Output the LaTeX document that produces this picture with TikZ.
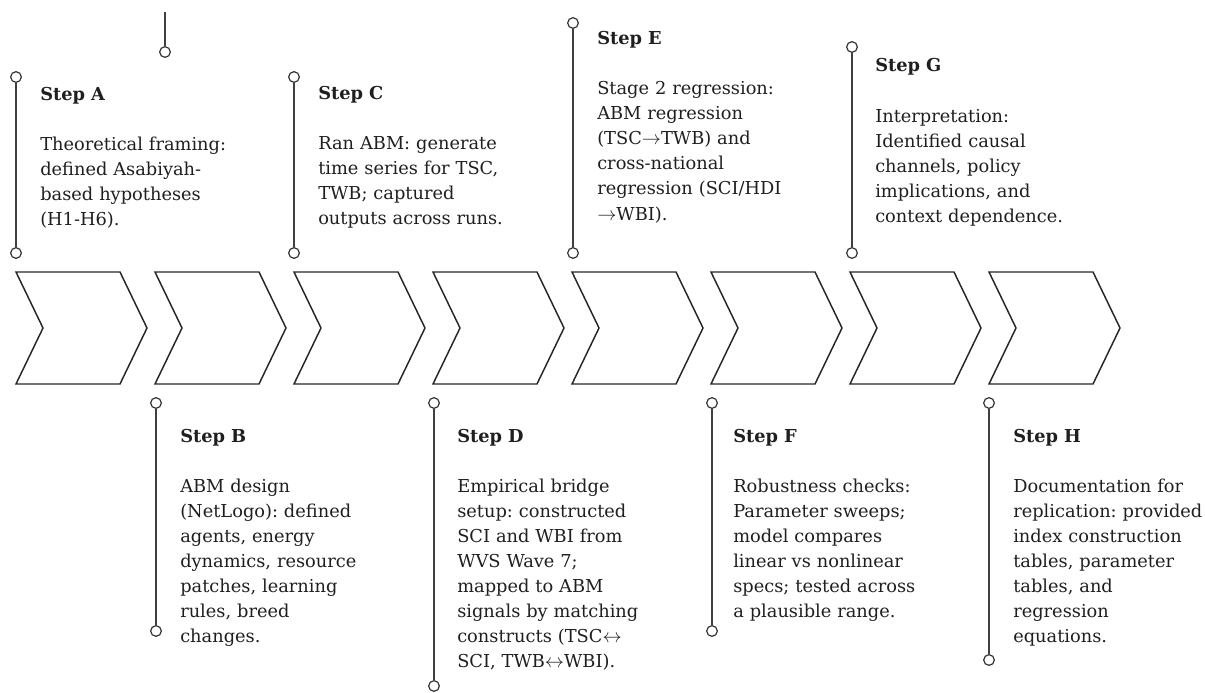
\documentclass[tikz,border=0pt]{standalone}
\usepackage{fontspec}
\setmainfont{DejaVu Serif}
\usetikzlibrary{positioning}
\frenchspacing

\begin{document}
\begin{tikzpicture}[
    x=0.75pt, y=-0.75pt,
    chev/.style={
        draw=black!85,
        line width=1.1pt,
        line join=miter
    },
    pin/.style={
        circle,
        draw=black!80,
        fill=white,
        line width=0.9pt,
        inner sep=0pt,
        minimum size=8pt
    },
    stem/.style={
        draw=black!75,
        line width=1.1pt
    },
    stepnote/.style={
        anchor=base west,
        align=left,
        inner sep=0pt,
        text=black!88,
        text width=#1,
        font=\fontsize{13.35pt}{18.75pt}\selectfont
    },
    stepnote/.default=180pt
]
\useasboundingbox (0,0) rectangle (1205,692);

% chevron band
\draw[chev] (16,272) -- ++(104,0) -- ++(27,56) -- ++(-27,56) -- ++(-104,0) -- ++(27,-56) -- cycle;
\draw[chev] (155,272) -- ++(104,0) -- ++(27,56) -- ++(-27,56) -- ++(-104,0) -- ++(27,-56) -- cycle;
\draw[chev] (294,272) -- ++(104,0) -- ++(27,56) -- ++(-27,56) -- ++(-104,0) -- ++(27,-56) -- cycle;
\draw[chev] (433,272) -- ++(104,0) -- ++(27,56) -- ++(-27,56) -- ++(-104,0) -- ++(27,-56) -- cycle;
\draw[chev] (572,272) -- ++(104,0) -- ++(27,56) -- ++(-27,56) -- ++(-104,0) -- ++(27,-56) -- cycle;
\draw[chev] (711,272) -- ++(104,0) -- ++(27,56) -- ++(-27,56) -- ++(-104,0) -- ++(27,-56) -- cycle;
\draw[chev] (850,272) -- ++(104,0) -- ++(27,56) -- ++(-27,56) -- ++(-104,0) -- ++(27,-56) -- cycle;
\draw[chev] (989,272) -- ++(104,0) -- ++(27,56) -- ++(-27,56) -- ++(-104,0) -- ++(27,-56) -- cycle;

% loose stem at the top
\coordinate (loose) at (165,12);
\node[pin] (looseB) at (165,52) {};
\draw[stem] (loose) -- (looseB);

% upper steps
\node[pin] (aT) at (16,77) {};
\node[pin] (aB) at (16,253) {};
\draw[stem] (aT) -- (aB);
\node[stepnote] (stepA) at (40,100) {\textbf{Step A}\\[18.75pt]
Theoretical framing:\\ defined Asabiyah-\\ based hypotheses\\ (H1-H6).};

\node[pin] (cT) at (294,77) {};
\node[pin] (cB) at (294,253) {};
\draw[stem] (cT) -- (cB);
\node[stepnote] (stepC) at (318,99) {\textbf{Step C}\\[18.75pt]
Ran ABM: generate\\ time series for TSC,\\ TWB; captured\\ outputs across runs.};

\node[pin] (eT) at (573,23) {};
\node[pin] (eB) at (573,253) {};
\draw[stem] (eT) -- (eB);
\node[stepnote] (stepE) at (597,45) {\textbf{Step E}\\[18.75pt]
Stage 2 regression:\\ ABM regression\\ (TSC$\to$TWB) and\\ cross-national\\ regression (SCI/HDI\\ $\to$WBI).};

\node[pin] (gT) at (852,47) {};
\node[pin] (gB) at (852,253) {};
\draw[stem] (gT) -- (gB);
\node[stepnote] (stepG) at (875,72) {\textbf{Step G}\\[18.75pt]
Interpretation:\\ Identified causal\\ channels, policy\\ implications, and\\ context dependence.};

% lower steps
\node[pin] (bT) at (156,403) {};
\node[pin] (bB) at (156,631) {};
\draw[stem] (bT) -- (bB);
\node[stepnote] (stepB) at (180,442) {\textbf{Step B}\\[18.75pt]
ABM design\\ (NetLogo): defined\\ agents, energy\\ dynamics, resource\\ patches, learning\\ rules, breed\\ changes.};

\node[pin] (dT) at (434,403) {};
\node[pin] (dB) at (434,686) {};
\draw[stem] (dT) -- (dB);
\node[stepnote] (stepD) at (457,442) {\textbf{Step D}\\[18.75pt]
Empirical bridge\\ setup: constructed\\ SCI and WBI from\\ WVS Wave 7;\\ mapped to ABM\\ signals by matching\\ constructs (TSC$\leftrightarrow$\\ SCI, TWB$\leftrightarrow$WBI).};

\node[pin] (fT) at (712,403) {};
\node[pin] (fB) at (712,631) {};
\draw[stem] (fT) -- (fB);
\node[stepnote] (stepF) at (733,442) {\textbf{Step F}\\[18.75pt]
Robustness checks:\\ Parameter sweeps;\\ model compares\\ linear vs nonlinear\\ specs; tested across\\ a plausible range.};

\node[pin] (hT) at (989,403) {};
\node[pin] (hB) at (989,660) {};
\draw[stem] (hT) -- (hB);
\node[stepnote] (stepH) at (1013,442) {\textbf{Step H}\\[18.75pt]
Documentation for\\ replication: provided\\ index construction\\ tables, parameter\\ tables, and\\ regression\\ equations.};

\end{tikzpicture}
\end{document}
